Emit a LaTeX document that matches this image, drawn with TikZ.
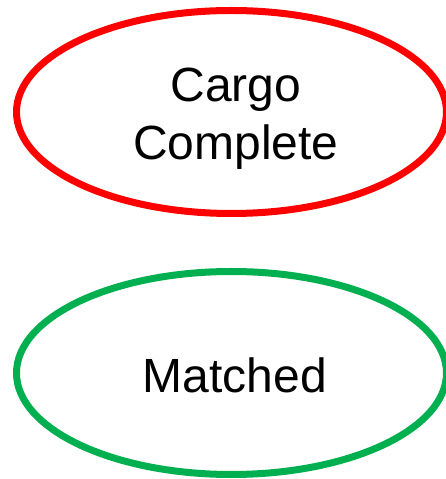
\documentclass[tikz,border=0pt]{standalone}
\usepackage{fontspec}
\setmainfont{Liberation Sans}
\usetikzlibrary{shapes.geometric}
\definecolor{cargored}{RGB}{255,0,0}
\definecolor{matchgreen}{RGB}{0,176,80}
\tikzset{
  status/.style={ellipse, draw, line width=7pt, minimum width=430pt, minimum height=203pt, inner sep=0pt},
  statustext/.style={align=center, font=\fontsize{48}{58}\selectfont, inner sep=0pt}
}
\begin{document}
\begin{tikzpicture}[x=1pt, y=1pt]
    \useasboundingbox (0,0) rectangle (446,479);

    \node[status, draw=cargored](cargo) at (231.5, 367) {};
    \node[statustext](cargo_txt) at (236, 360) {Cargo\\Complete};

    \node[status, draw=matchgreen](matched) at (231.5, 106) {};
    \node[statustext](matched_txt) at (235, 103.5) {Matched};

\end{tikzpicture}
\end{document}
